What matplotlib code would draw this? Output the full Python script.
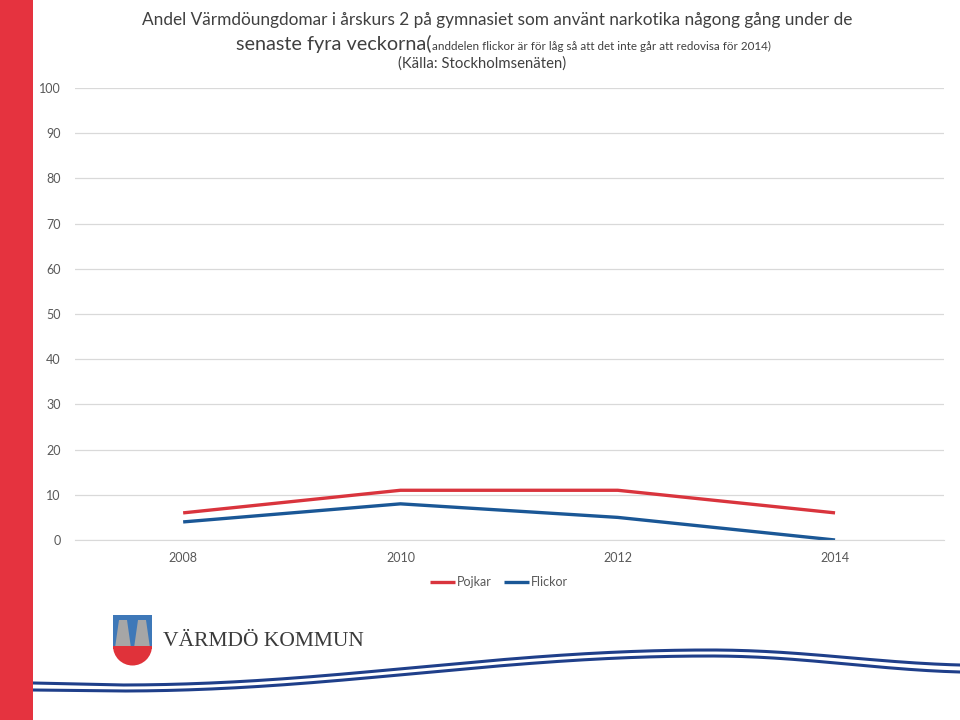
import matplotlib
matplotlib.use("Agg")
import matplotlib.pyplot as plt
import numpy as np
from matplotlib.patches import Rectangle, Polygon, Wedge

years = ["2008", "2010", "2012", "2014"]
pojkar = [6, 11, 11, 6]
flickor = [4, 8, 5, 0]
yticks = list(range(0, 101, 10))

plt.rcParams['font.family'] = ['Lato', 'DejaVu Sans']
W, H = 960, 720
fig = plt.figure(figsize=(9.6, 7.2), dpi=100)

def fx(px):
    return px / W

def fy(py):
    return 1 - py / H

# Left red band
fig.patches.append(Rectangle((0, 0), fx(33), 1, transform=fig.transFigure,
                             facecolor="#E5333F", edgecolor="none", zorder=0))

ax = fig.add_axes([fx(74.5), fy(540), fx(943.7 - 74.5), (540 - 88) / H])
x = np.arange(len(years))
ax.plot(x, pojkar, color="#D9343D", lw=2.4, label="Pojkar", solid_capstyle="butt")
ax.plot(x, flickor, color="#1A5796", lw=2.4, label="Flickor", solid_capstyle="butt")
ax.set_xlim(-0.5, len(years) - 0.5)
ax.set_ylim(0, 100)
ax.set_yticks(yticks)
ax.set_xticks(x)
ax.set_xticklabels(years)
ax.grid(axis="y", color="#D9D9D9", lw=0.9)
ax.set_axisbelow(True)
for s in ["top", "right", "left"]:
    ax.spines[s].set_visible(False)
ax.spines["bottom"].set_color("#D9D9D9")
ax.tick_params(axis="both", length=0, colors="#595959", labelsize=9)
ax.tick_params(axis="y", pad=10)
ax.tick_params(axis="x", pad=9)

# Title
tc = "#404040"
fig.text(fx(497), fy(20), "Andel Värmdöungdomar i årskurs 2 på gymnasiet som använt narkotika någong gång under de",
         ha="center", va="center", fontsize=12.4, color=tc)
fig.text(fx(432), fy(50), "senaste fyra veckorna(", ha="right", va="baseline", fontsize=14.3, color=tc)
fig.text(fx(432), fy(50), "anddelen flickor är för låg så att det inte går att redovisa för 2014)",
         ha="left", va="baseline", fontsize=8.4, color=tc)
fig.text(fx(482), fy(64), "(Källa: Stockholmsenäten)", ha="center", va="center", fontsize=10.7, color=tc)

# Legend
leg = fig.legend(loc="center", bbox_to_anchor=(fx(499), fy(582)), ncol=2, frameon=False,
                 fontsize=9, handlelength=2.0, handletextpad=0.2, columnspacing=0.9)
for t in leg.get_texts():
    t.set_color("#595959")

# Decorative overlay axes in pixel coords
deco = fig.add_axes([0, 0, 1, 1])
deco.set_xlim(0, W)
deco.set_ylim(H, 0)
deco.axis("off")

# Logo shield
sh_l, sh_r, sh_t, sh_m = 113, 152, 615, 646
deco.add_patch(Rectangle((sh_l, sh_t), sh_r - sh_l, sh_m - sh_t, facecolor="#3E78B8", edgecolor="none"))
deco.add_patch(Wedge(((sh_l + sh_r) / 2, sh_m), (sh_r - sh_l) / 2, 0, 180, facecolor="#E0323A",
                     edgecolor="none", transform=deco.transData))
for cx in (123, 142):
    deco.add_patch(Polygon([(cx - 8, 648), (cx - 4, 620), (cx + 4, 620), (cx + 8, 648)],
                           closed=True, facecolor="#A6A6A6", edgecolor="none"))
deco.add_patch(Rectangle((sh_l, 646), sh_r - sh_l, 3, facecolor="#E0323A", edgecolor="none"))
deco.text(163, 641, "VÄRMDÖ KOMMUN", fontsize=15.5, family=["Liberation Serif", "DejaVu Serif"],
          color="#3A3A3A", va="center", ha="left")

# Waves
xs = np.linspace(33, 960, 400)
def wave(xv, base_left, low, high, right):
    t = np.clip((xv - 120) / (710 - 120), 0, 1)
    y1 = low + (high - low) * (1 - np.cos(np.pi * t)) / 2
    t2 = np.clip((xv - 710) / (960 - 710), 0, 1)
    y2 = (right - high) * (1 - np.cos(np.pi * t2 * 0.9)) / 2 / ((1 - np.cos(np.pi * 0.9)) / 2)
    y = np.where(xv < 710, y1, high + y2)
    left = xv < 120
    y = np.where(left, base_left + (low - base_left) * (xv - 33) / (120 - 33), y)
    return y
deco.plot(xs, wave(xs, 683, 685, 650, 665), color="#1F3F8A", lw=2.2)
deco.plot(xs, wave(xs, 690, 691, 656, 672), color="#1F3F8A", lw=2.2)

fig.savefig("out.png", dpi=100)
